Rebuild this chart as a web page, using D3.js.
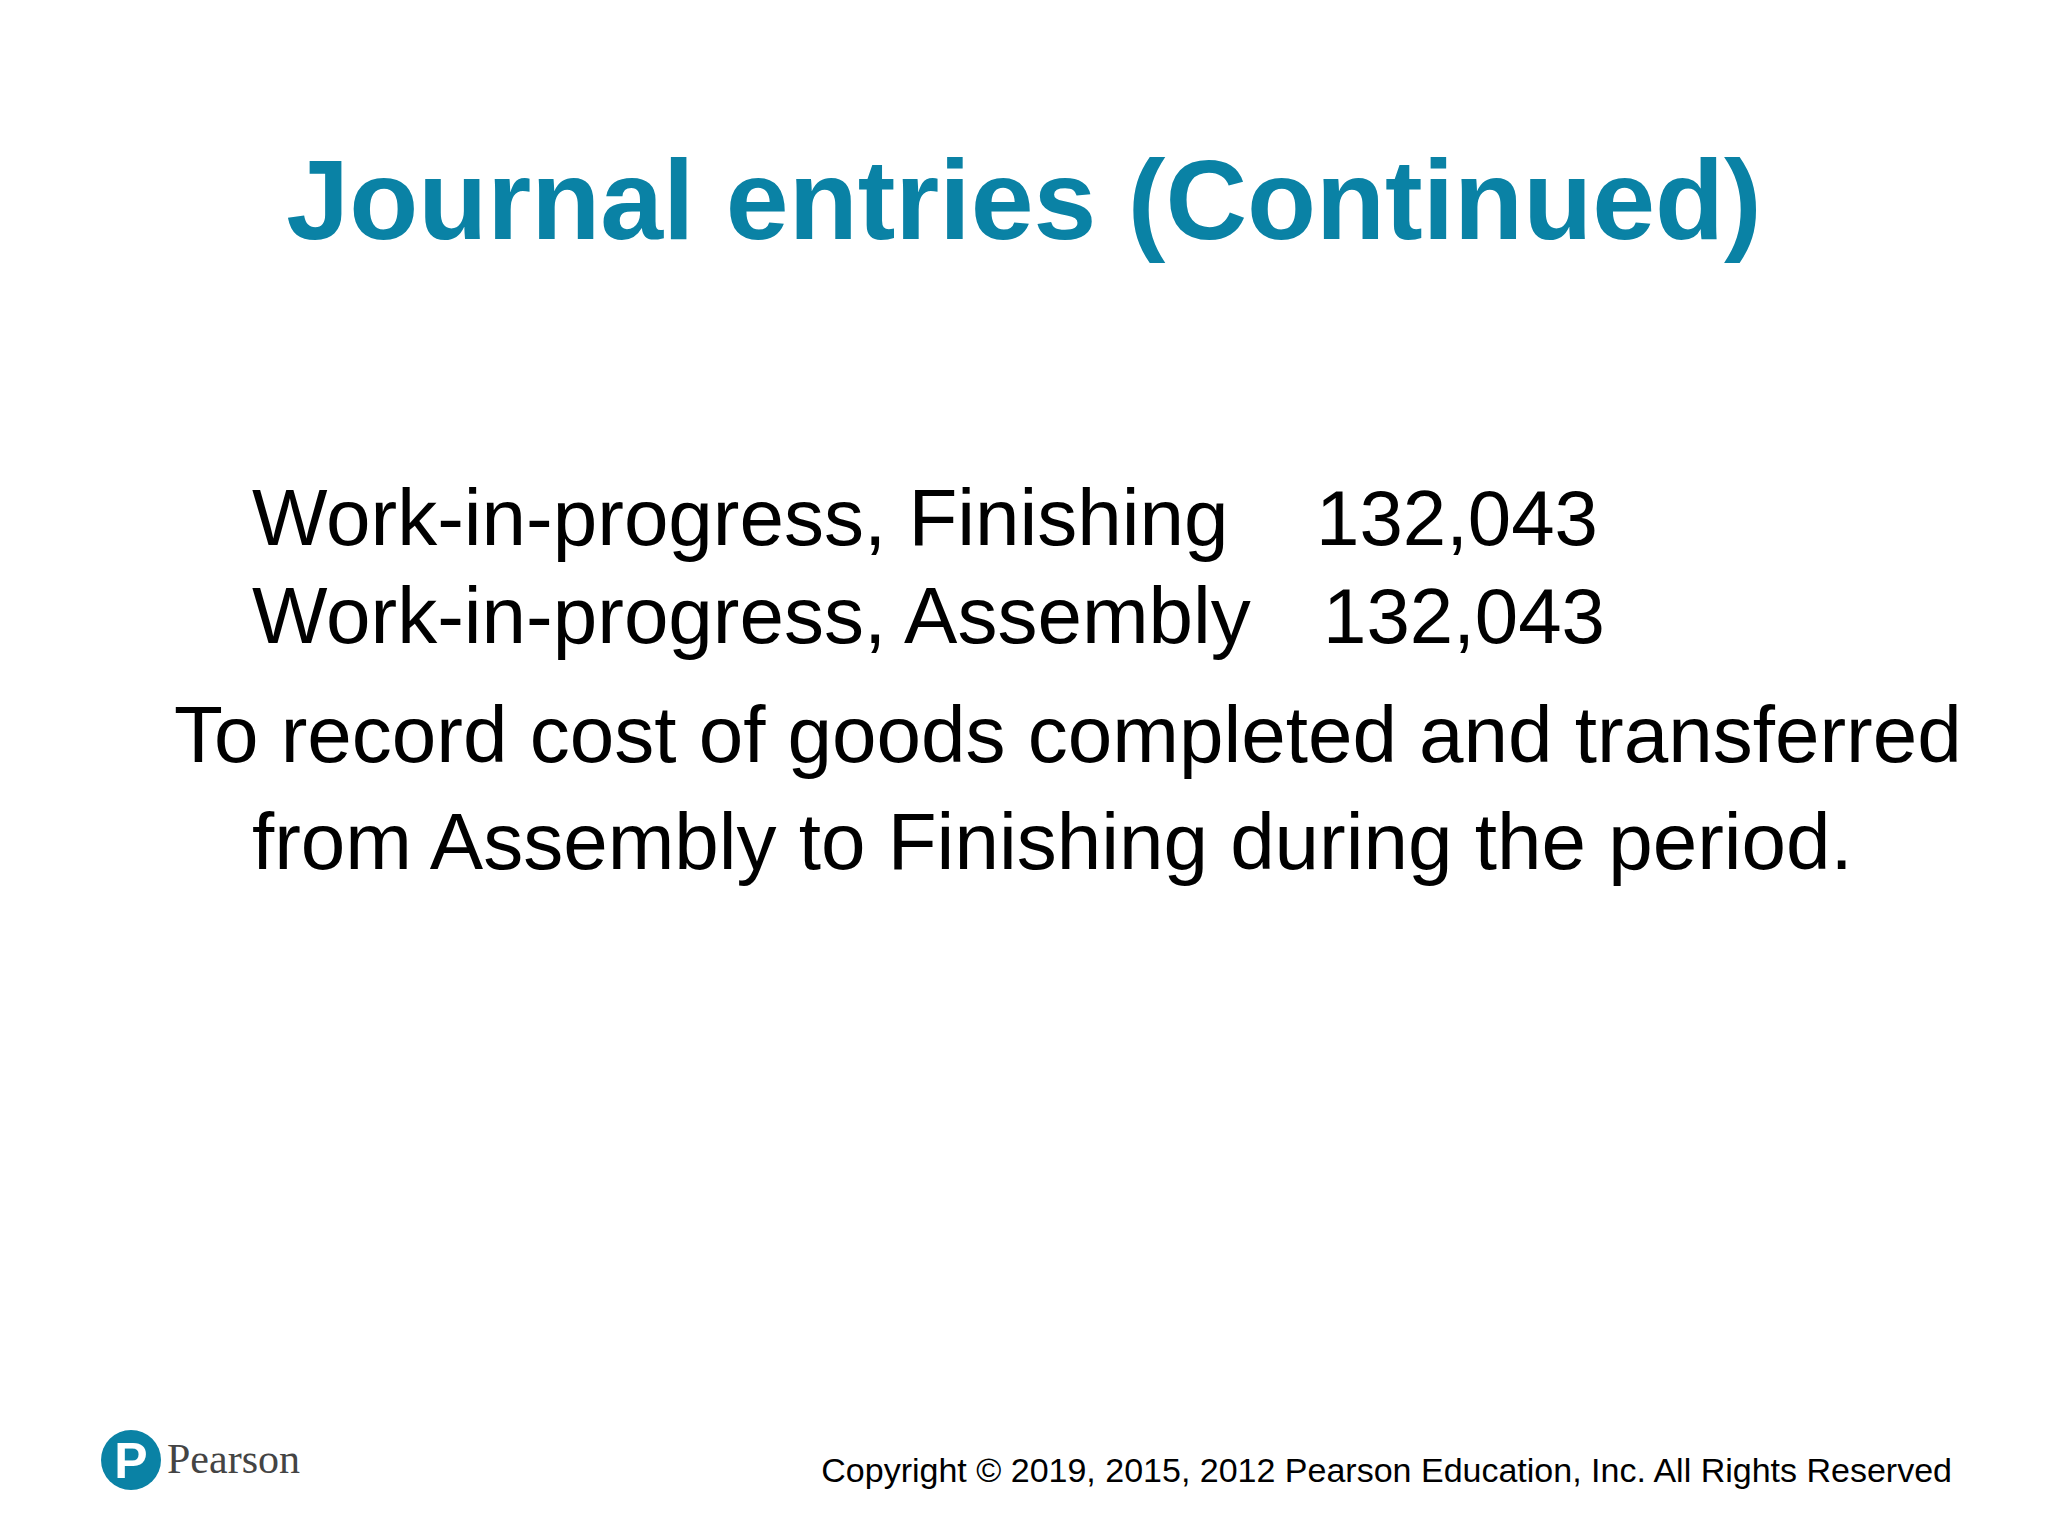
<!DOCTYPE html>
<html><head><meta charset="utf-8">
<script src="https://cdn.jsdelivr.net/npm/d3@7"></script>
<style>body{margin:0;background:#fff}</style>
</head><body>
<script>
var title = "Journal entries (Continued)"
var accounts = ["Work-in-progress, Finishing", "Work-in-progress, Assembly"]
var amounts = [132043, 132043]
var amountX = [1316, 1323]
var note = ["To record cost of goods completed and transferred", "from Assembly to Finishing during the period."]
var copyright = "Copyright \u00a9 2019, 2015, 2012 Pearson Education, Inc. All Rights Reserved"

var svg = d3.select("body").append("svg").attr("width", 2048).attr("height", 1536)
var blue = "#0a82a5"
var font = "Liberation Sans, Arial, sans-serif"

svg.append("text").attr("x", 1024).attr("y", 239).attr("text-anchor", "middle")
  .attr("font-family", font).attr("font-weight", "bold").attr("font-size", 113)
  .attr("fill", blue).text(title)

var rows = svg.selectAll(".row").data(accounts).enter().append("g")
rows.append("text").attr("x", 252).attr("y", function(d, i){ return 545 + i * 98 })
  .attr("font-family", font).attr("font-size", 80).attr("fill", "#000").text(function(d){ return d })
rows.append("text").attr("x", function(d, i){ return amountX[i] }).attr("y", function(d, i){ return 545 + i * 98 })
  .attr("font-family", font).attr("font-size", 78).attr("fill", "#000")
  .text(function(d, i){ return d3.format(",")(amounts[i]) })

svg.selectAll(".note").data(note).enter().append("text")
  .attr("x", function(d, i){ return i ? 252 : 174 }).attr("y", function(d, i){ return 762 + i * 107 })
  .attr("font-family", font).attr("font-size", 80).attr("fill", "#000").text(function(d){ return d })

// footer
svg.append("circle").attr("cx", 131).attr("cy", 1460).attr("r", 30).attr("fill", blue)
svg.append("text").attr("x", 131).attr("y", 1478).attr("text-anchor", "middle")
  .attr("font-family", font).attr("font-weight", "bold").attr("font-size", 50).attr("fill", "#fff").text("P")
svg.append("text").attr("x", 167).attr("y", 1473)
  .attr("font-family", "Liberation Serif, serif").attr("font-size", 42).attr("fill", "#444").text("Pearson")
svg.append("text").attr("x", 1952).attr("y", 1482).attr("text-anchor", "end")
  .attr("font-family", font).attr("font-size", 34).attr("fill", "#000").text(copyright)
</script>
</body></html>
